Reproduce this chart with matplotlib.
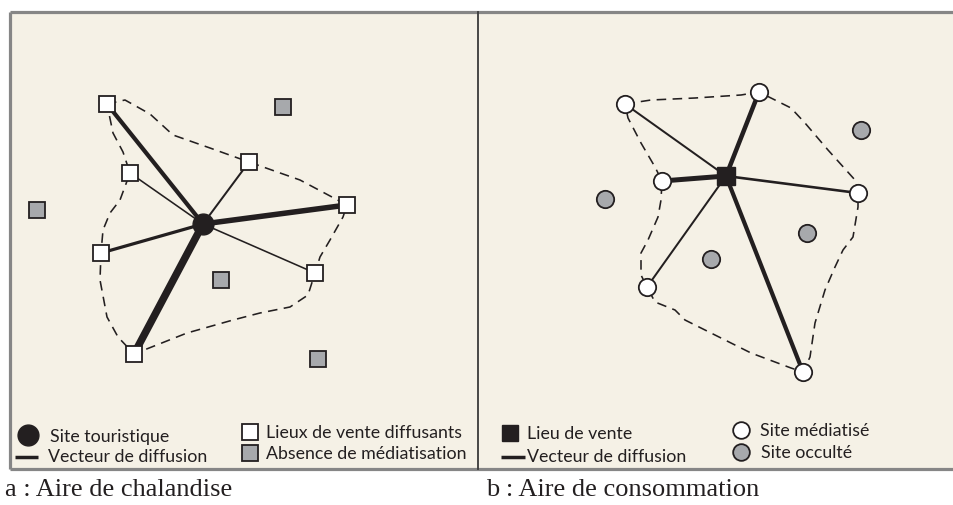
import matplotlib
matplotlib.use("Agg")
import matplotlib.pyplot as plt
from matplotlib.patches import Rectangle

# Couleurs
fond = "#f5f1e6"
encre = "#231f20"
gris = "#a7a9ac"
bord = "#868686"

# --- Panneau a : aire de chalandise (coordonnées en pixels) ---
a_site = (203, 224)
a_lieux_x = [107, 130, 249, 347, 101, 315, 134]
a_lieux_y = [104, 173, 162, 205, 253, 273, 354]
a_poids = [4.2, 1.6, 2.0, 5.5, 3.2, 1.6, 7.5]
a_absents_x = [283, 37, 221, 318]
a_absents_y = [107, 210, 280, 359]
a_contour_x = [107, 125, 150, 173, 210, 249, 300, 347, 343, 330, 320, 315,
               308, 290, 260, 233, 187, 134, 118, 107, 100, 101, 103, 110,
               120, 130, 123, 113, 107]
a_contour_y = [104, 100, 114, 135, 148, 162, 180, 205, 217, 240, 257, 273,
               295, 307, 313, 320, 333, 354, 337, 317, 280, 253, 230, 213,
               200, 173, 152, 133, 104]

# --- Panneau b : aire de consommation ---
b_lieu = (726, 176)
b_sites_x = [625, 759, 662, 858, 647, 803]
b_sites_y = [104, 92, 181, 193, 287, 372]
b_poids = [2.0, 4.5, 5.0, 2.6, 2.0, 4.2]
b_occultes_x = [861, 605, 711, 807]
b_occultes_y = [130, 199, 259, 233]
b_contour_x = [625, 651, 695, 741, 759, 791, 805, 828, 855, 858, 858, 853,
               843, 835, 825, 815, 810, 803, 791, 751, 711, 685, 675, 655,
               647, 641, 641, 648, 658, 661, 662, 655, 641, 628, 625]
b_contour_y = [104, 100, 98, 95, 92, 108, 123, 150, 180, 193, 207, 237,
               250, 267, 290, 323, 357, 372, 368, 353, 333, 320, 310, 302,
               287, 275, 253, 240, 217, 200, 181, 167, 143, 118, 104]

fig = plt.figure(figsize=(9.54, 5.05), dpi=100)
ax = fig.add_axes([0, 0, 1, 1])
ax.set_xlim(0, 954)
ax.set_ylim(505, 0)
ax.axis("off")

# Cadre
ax.add_patch(Rectangle((10, 11.5), 950, 457.5, facecolor=fond, edgecolor="none", zorder=0))
ax.plot([10.5, 954], [11.5, 11.5], color=bord, lw=2.3, solid_capstyle="butt", zorder=1)
ax.plot([10.5, 954], [468.5, 468.5], color=bord, lw=2.3, solid_capstyle="butt", zorder=1)
ax.plot([10.5, 10.5], [11.5, 468.5], color=bord, lw=2.3, solid_capstyle="butt", zorder=1)
ax.plot([478.5, 478.5], [11.5, 468.5], color="#3a3a3a", lw=1.3, zorder=1)

tirets = (0, (6, 4))

# Panneau a
ax.plot(a_contour_x, a_contour_y, color=encre, lw=1.15, linestyle=tirets, zorder=2)
for x, y, w in zip(a_lieux_x, a_lieux_y, a_poids):
    ax.plot([a_site[0], x], [a_site[1], y], color=encre, lw=w * 0.72,
            solid_capstyle="butt", zorder=3)
ax.plot(a_lieux_x, a_lieux_y, "s", ms=12, mfc="white", mec=encre, mew=1.3, zorder=5)
ax.plot(a_absents_x, a_absents_y, "s", ms=12, mfc=gris, mec=encre, mew=1.3, zorder=5)
ax.plot(*a_site, "o", ms=15, color=encre, zorder=6)

# Panneau b
ax.plot(b_contour_x, b_contour_y, color=encre, lw=1.15, linestyle=tirets, zorder=2)
for x, y, w in zip(b_sites_x, b_sites_y, b_poids):
    ax.plot([b_lieu[0], x], [b_lieu[1], y], color=encre, lw=w * 0.72,
            solid_capstyle="butt", zorder=3)
ax.plot(b_sites_x, b_sites_y, "o", ms=12.5, mfc="white", mec=encre, mew=1.3, zorder=5)
ax.plot(b_occultes_x, b_occultes_y, "o", ms=12.5, mfc=gris, mec=encre, mew=1.3, zorder=5)
ax.plot(*b_lieu, "s", ms=12.5, color=encre, zorder=6)

# Légendes
police = dict(family="Lato", fontsize=12.8, color=encre, va="center", ha="left")
ax.plot(28, 435, "o", ms=15, color=encre)
ax.text(50, 437, "Site touristique", **police)
ax.plot([15, 38], [457, 457], color=encre, lw=2.5, solid_capstyle="butt")
ax.text(48, 457, "Vecteur de diffusion", **police)
ax.plot(250, 432, "s", ms=12, mfc="white", mec=encre, mew=1.3)
ax.text(266, 433, "Lieux de vente diffusants", **police)
ax.plot(250, 453, "s", ms=12, mfc=gris, mec=encre, mew=1.3)
ax.text(266, 454, "Absence de médiatisation", **police)

ax.plot(510, 433, "s", ms=12, color=encre)
ax.text(527, 434, "Lieu de vente", **police)
ax.plot([501, 525], [457, 457], color=encre, lw=2.5, solid_capstyle="butt")
ax.text(527, 457, "Vecteur de diffusion", **police)
ax.plot(741, 430, "o", ms=12, mfc="white", mec=encre, mew=1.3)
ax.text(760, 431, "Site médiatisé", **police)
ax.plot(741, 452, "o", ms=12, mfc=gris, mec=encre, mew=1.3)
ax.text(761, 453, "Site occulté", **police)

# Légendes des figures
titre = dict(family="Liberation Serif", fontsize=19, color=encre, va="center", ha="left")
ax.text(5, 490, "a : Aire de chalandise", **titre)
ax.text(486, 490, "b : Aire de consommation", **titre)

fig.savefig("out.png", dpi=100)
